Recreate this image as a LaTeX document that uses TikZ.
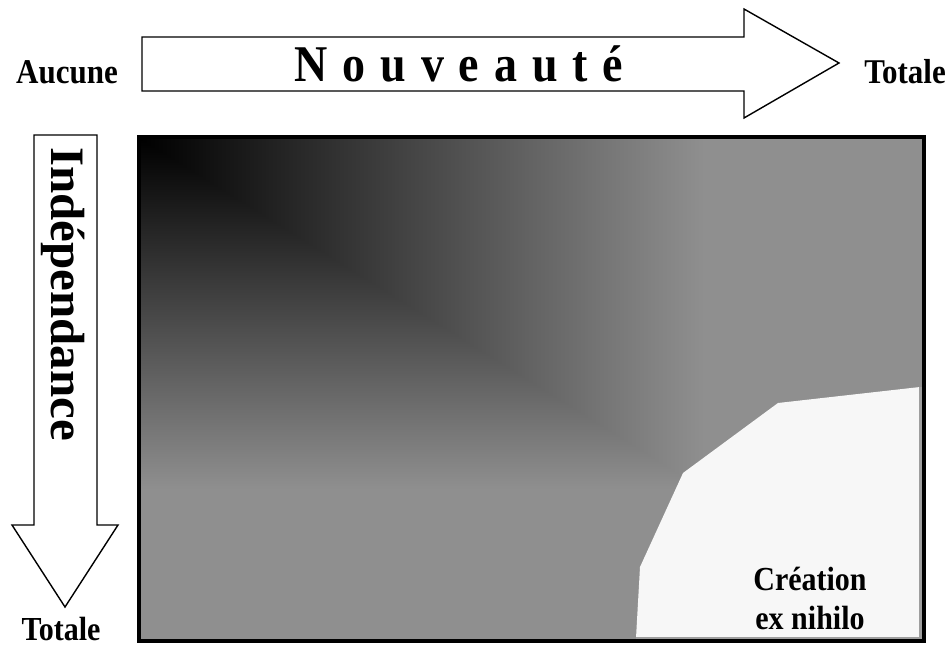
\documentclass[tikz,border=0pt]{standalone}
\usepackage{fontspec}
\setmainfont{Liberation Serif}
\newfontfamily\widefont[WordSpace=1.29]{Liberation Serif}

\definecolor{fieldgray}{gray}{0.56}
\definecolor{paper}{gray}{0.97}
\definecolor{rimgray}{gray}{0.62}

\pgfdeclareverticalshading{downshade}{100bp}{color(0bp)=(fieldgray); color(40bp)=(fieldgray); color(75bp)=(black); color(100bp)=(black)}
\pgfdeclarehorizontalshading{acrossshade}{100bp}{color(0bp)=(black); color(25bp)=(black); color(61bp)=(fieldgray); color(100bp)=(fieldgray)}

\newcommand{\tallbox}[1]{\scalebox{1}[1.12]{#1}}

\begin{document}
\begin{tikzpicture}[x=1pt, y=1pt,
    blockarrow/.style={draw, line width=1.4pt, fill=white, line join=miter},
    endlabel/.style={font=\bfseries\fontsize{31}{31}\selectfont, anchor=base, inner sep=0pt}]
    \useasboundingbox (0, 0) rectangle (949, 646);

    % axis arrows
    \draw[blockarrow] (142, 609) -- (744, 609) -- (744, 637) -- (839, 583)
        -- (744, 528) -- (744, 555) -- (142, 555) -- cycle;
    \draw[blockarrow] (34, 511) -- (97, 511) -- (97, 121) -- (118, 121)
        -- (65, 39) -- (12, 121) -- (34, 121) -- cycle;

    % field
    \shade[shading=downshade] (141, 7) rectangle (922, 507);
    \shade[shading=acrossshade, blend mode=lighten] (141, 7) rectangle (922, 507);
    \fill[paper] (636, 8) -- (640, 79) -- (683, 173) -- (778, 243) -- (920, 259) -- (920, 8) -- cycle;
    \draw[rimgray, line width=3pt] (920, 259) -- (920, 8) -- (636, 8);
    \draw[line width=4pt] (139, 5) rectangle (924, 509);

    \node[endlabel] (aucune) at (67, 562) {\tallbox{Aucune}};
    \node[endlabel] (totalex) at (905, 562) {\tallbox{Totale}};
    \node[endlabel, font=\bfseries\fontsize{30}{30}\selectfont] (totaley) at (61, 6) {\tallbox{Totale}};
    \node[anchor=base, inner sep=0pt, font=\widefont\bfseries\fontsize{46}{46}\selectfont]
        (nouv) at (459, 564) {\tallbox{N o u v e a u t é}};
    \node[anchor=base, inner sep=0pt, rotate=-90, font=\bfseries\fontsize{48}{48}\selectfont]
        (indep) at (51, 352) {\scalebox{1.02}[1]{Indépendance}};
    \node[endlabel, font=\bfseries\fontsize{30}{30}\selectfont] (crea) at (810, 56) {\tallbox{Création}};
    \node[endlabel, font=\bfseries\fontsize{30}{30}\selectfont] (nihilo) at (810, 17) {\tallbox{ex nihilo}};
\end{tikzpicture}
\end{document}
